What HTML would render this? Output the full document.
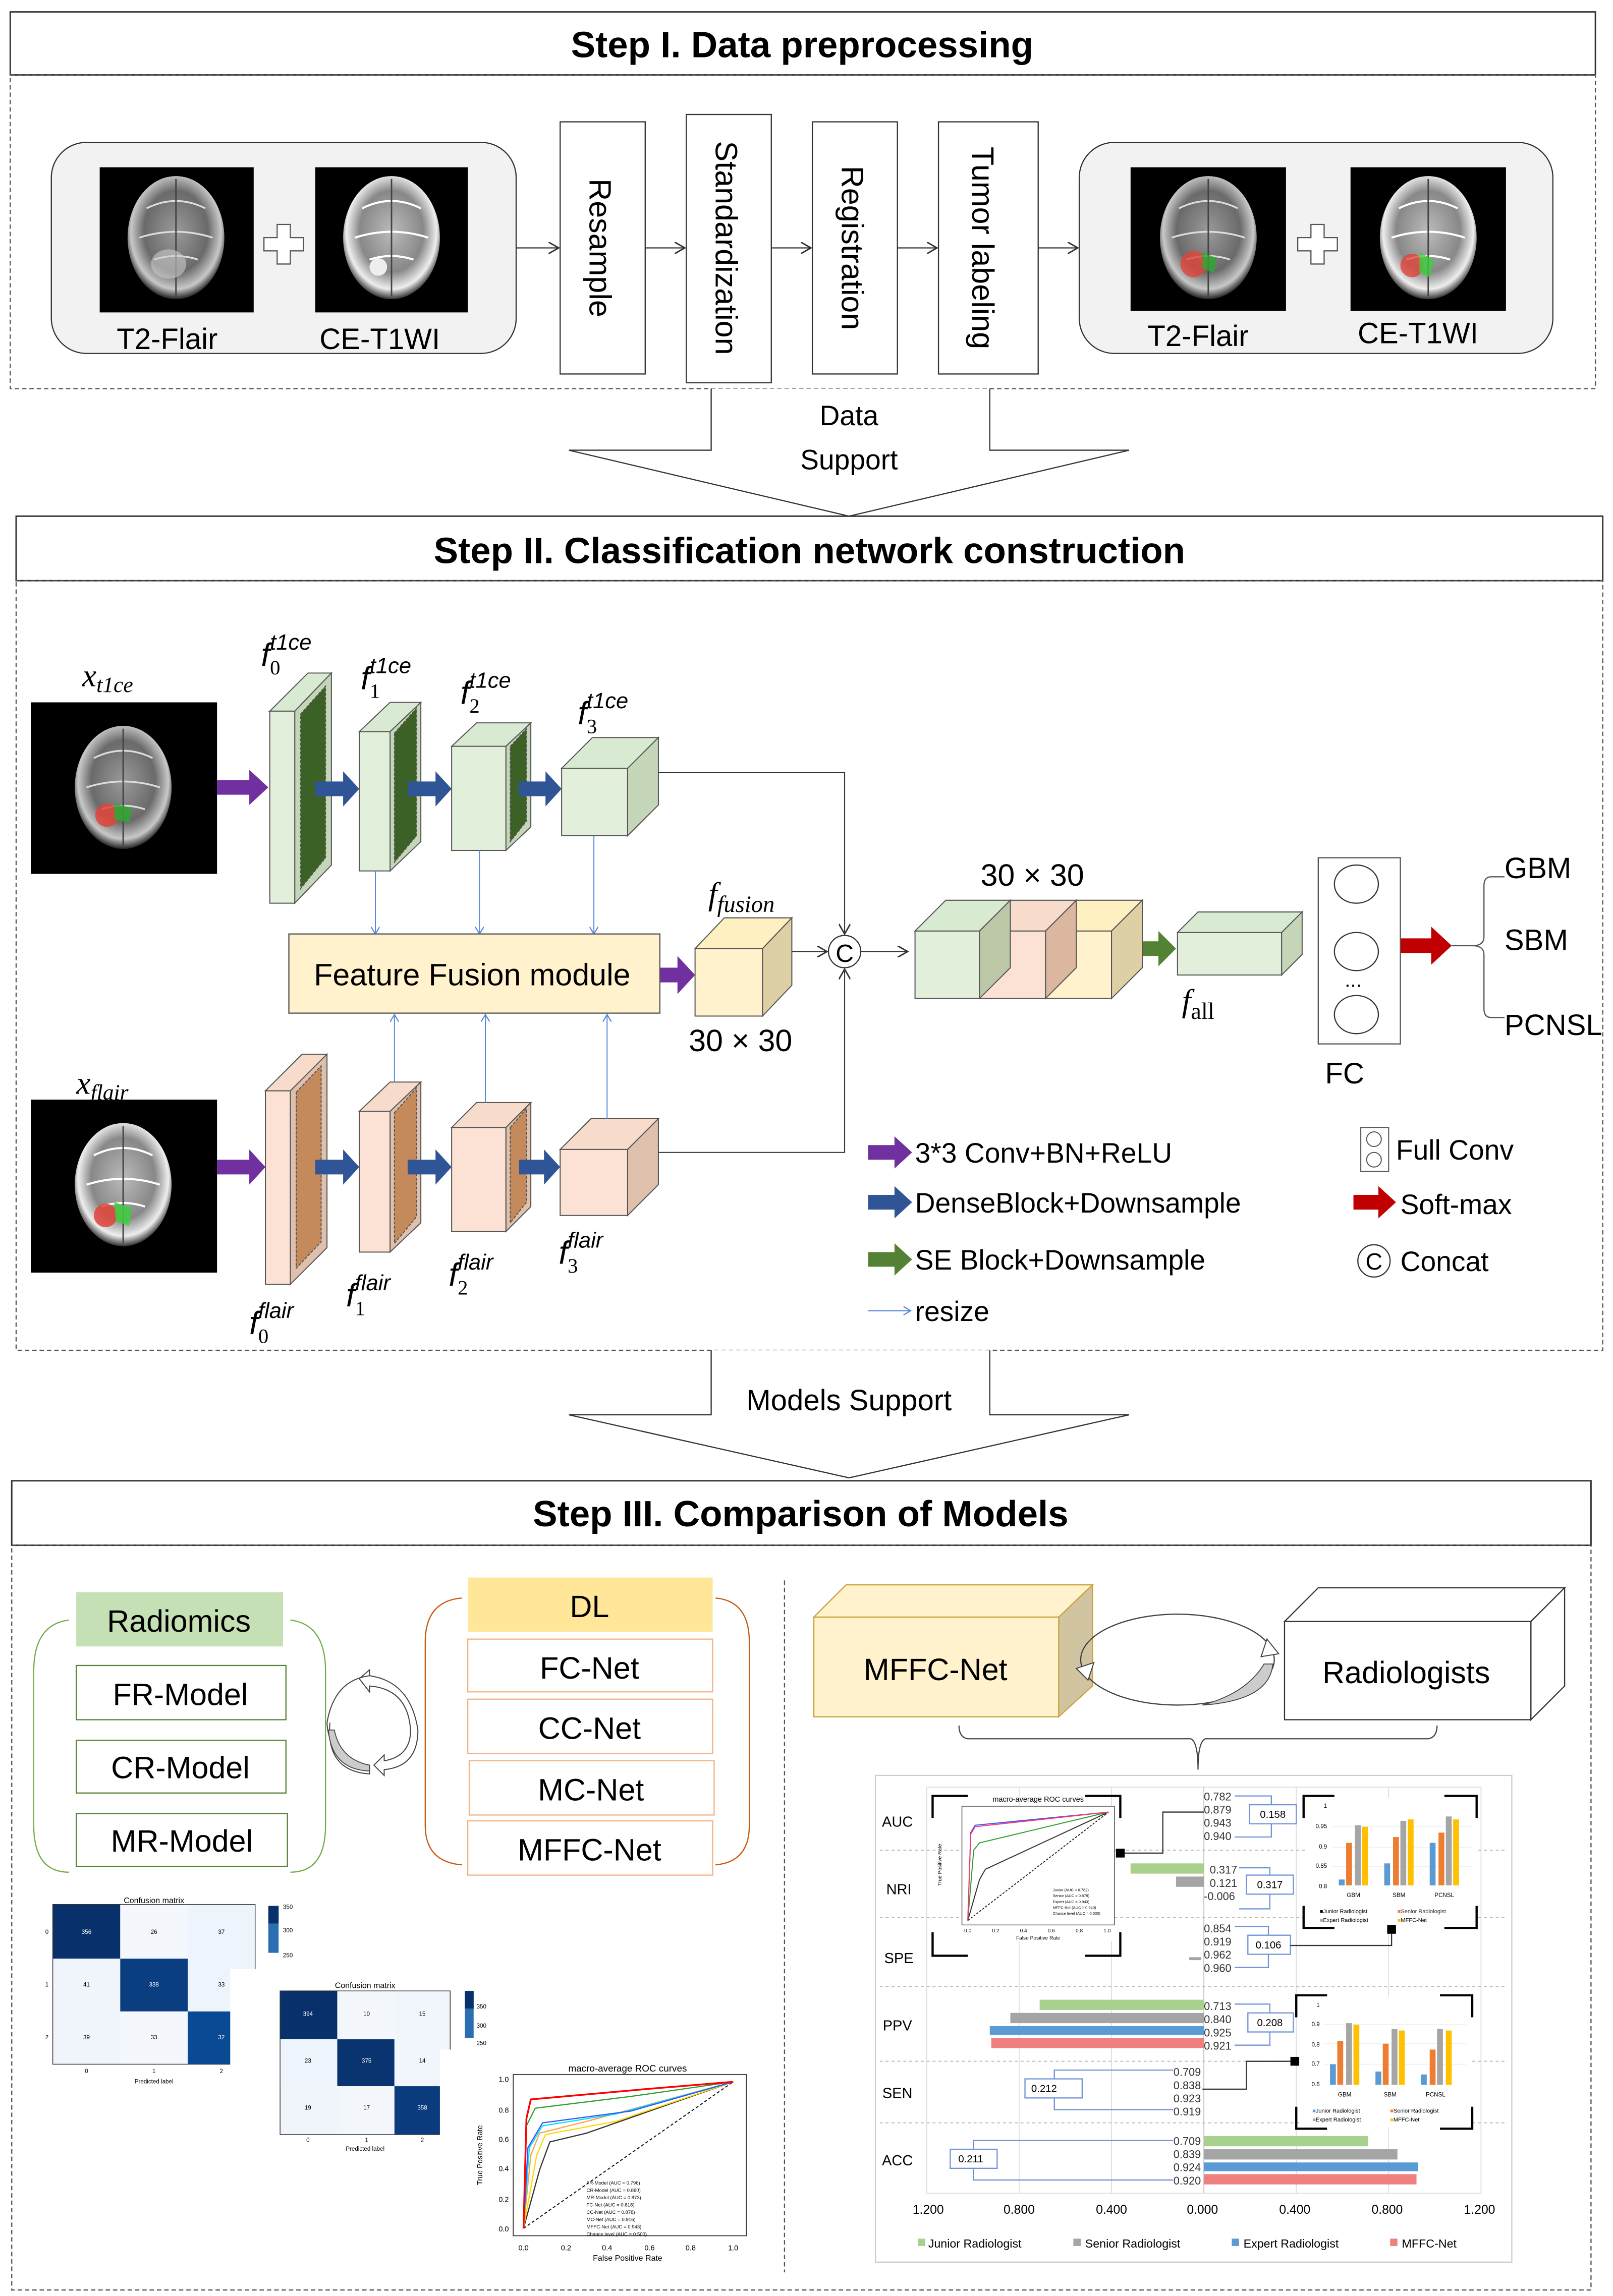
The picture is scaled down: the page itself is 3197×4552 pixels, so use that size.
<!DOCTYPE html>
<html><head><meta charset="utf-8"><style>
html,body{margin:0;padding:0;background:#fff;}
svg{display:block;}
text{font-family:"Liberation Sans",sans-serif;}
.it{font-family:"Liberation Serif",serif;font-style:italic;}
.sr{font-family:"Liberation Serif",serif;}
</style></head><body>
<svg width="3197" height="4552" viewBox="0 0 1100 1566" xmlns="http://www.w3.org/2000/svg">
<defs>
<radialGradient id="bg1" cx="50%" cy="45%" r="55%"><stop offset="0" stop-color="#9a9a9a"/><stop offset="0.6" stop-color="#6a6a6a"/><stop offset="0.85" stop-color="#c8c8c8"/><stop offset="1" stop-color="#222"/></radialGradient>
<radialGradient id="bg2" cx="50%" cy="45%" r="55%"><stop offset="0" stop-color="#bbb"/><stop offset="0.6" stop-color="#888"/><stop offset="0.85" stop-color="#eee"/><stop offset="1" stop-color="#333"/></radialGradient>
<marker id="ah" markerWidth="8" markerHeight="8" refX="7" refY="4" orient="auto" markerUnits="userSpaceOnUse"><path d="M0,0 L7,4 L0,8" fill="none" stroke="#333" stroke-width="1"/></marker>
<marker id="ahb" markerWidth="6" markerHeight="6" refX="5" refY="3" orient="auto" markerUnits="userSpaceOnUse"><path d="M0,0 L5,3 L0,6" fill="none" stroke="#5b8bd8" stroke-width="0.8"/></marker>
<g id="brain"><ellipse cx="0" cy="0" rx="33" ry="42" fill="url(#bg1)"/><path d="M-20,-20 Q0,-30 20,-20 M-25,0 Q0,-8 25,0 M-15,15 Q0,10 15,15" stroke="#ddd" stroke-width="1.2" fill="none"/><path d="M0,-40 L0,40" stroke="#444" stroke-width="1"/></g>
<g id="brain2"><ellipse cx="0" cy="0" rx="33" ry="42" fill="url(#bg2)"/><path d="M-20,-20 Q0,-30 20,-20 M-25,0 Q0,-8 25,0 M-15,15 Q0,10 15,15" stroke="#fff" stroke-width="1.4" fill="none"/><path d="M0,-40 L0,40" stroke="#444" stroke-width="1"/></g>
</defs>

<!-- ===== STEP I ===== -->
<rect x="7" y="8" width="1081" height="43" fill="#fff" stroke="#333" stroke-width="1"/>
<text x="547" y="39" font-size="25" font-weight="bold" text-anchor="middle">Step I. Data preprocessing</text>
<rect x="7" y="51" width="1081" height="214" fill="none" stroke="#555" stroke-width="0.8" stroke-dasharray="3,2"/>
<!-- left panel -->
<rect x="35" y="97" width="317" height="144" rx="24" fill="#f2f2f2" stroke="#333" stroke-width="0.8"/>
<rect x="68" y="114" width="105" height="99" fill="#000"/><use href="#brain" x="120" y="162"/>
<ellipse cx="115" cy="180" rx="12" ry="10" fill="#ccc" opacity="0.6"/>
<rect x="215" y="114" width="104" height="99" fill="#000"/><use href="#brain2" x="267" y="162"/>
<circle cx="258" cy="182" r="6" fill="#eee"/>
<path d="M189,153 h9 v9 h9 v9 h-9 v9 h-9 v-9 h-9 v-9 h9 z" fill="#fff" stroke="#555" stroke-width="0.8"/>
<text x="114" y="238" font-size="20" text-anchor="middle">T2-Flair</text>
<text x="259" y="238" font-size="20" text-anchor="middle">CE-T1WI</text>
<!-- boxes -->
<rect x="382" y="83" width="58" height="172" fill="#fff" stroke="#333" stroke-width="0.8"/>
<text transform="translate(402,169) rotate(90)" font-size="21" text-anchor="middle">Resample</text>
<rect x="468" y="78" width="58" height="183" fill="#fff" stroke="#333" stroke-width="0.8"/>
<text transform="translate(488,169) rotate(90)" font-size="21" text-anchor="middle">Standardization</text>
<rect x="554" y="83" width="58" height="172" fill="#fff" stroke="#333" stroke-width="0.8"/>
<text transform="translate(574,169) rotate(90)" font-size="21" text-anchor="middle">Registration</text>
<rect x="640" y="83" width="68" height="172" fill="#fff" stroke="#333" stroke-width="0.8"/>
<text transform="translate(663,169) rotate(90)" font-size="21" text-anchor="middle">Tumor labeling</text>
<g stroke="#333" stroke-width="0.8" marker-end="url(#ah)">
<line x1="352" y1="169" x2="381" y2="169"/><line x1="440" y1="169" x2="467" y2="169"/><line x1="526" y1="169" x2="553" y2="169"/><line x1="612" y1="169" x2="639" y2="169"/><line x1="708" y1="169" x2="735" y2="169"/></g>
<!-- right panel -->
<rect x="736" y="97" width="323" height="144" rx="24" fill="#f2f2f2" stroke="#333" stroke-width="0.8"/>
<rect x="771" y="114" width="106" height="98" fill="#000"/><use href="#brain" x="824" y="162"/>
<circle cx="814" cy="180" r="9" fill="#e0453a" opacity="0.8"/><path d="M820,172 l10,4 l-2,10 l-8,-3z" fill="#2fa82f" opacity="0.8"/>
<rect x="921" y="114" width="106" height="98" fill="#000"/><use href="#brain2" x="974" y="162"/>
<circle cx="963" cy="181" r="8" fill="#e0453a" opacity="0.8"/><path d="M968,172 l10,5 l-3,12 l-7,-3z" fill="#3ecf3e" opacity="0.8"/>
<path d="M894,153 h9 v9 h9 v9 h-9 v9 h-9 v-9 h-9 v-9 h9 z" fill="#fff" stroke="#555" stroke-width="0.8"/>
<text x="817" y="236" font-size="20" text-anchor="middle">T2-Flair</text>
<text x="967" y="234" font-size="20" text-anchor="middle">CE-T1WI</text>
<!-- data support arrow -->
<path d="M485,265 V307 H388 L579,352 L770,307 H675 V265" fill="#fff" stroke="#333" stroke-width="0.8"/>
<text x="579" y="290" font-size="19" text-anchor="middle">Data</text>
<text x="579" y="320" font-size="19" text-anchor="middle">Support</text>

<!-- ===== STEP II ===== -->
<rect x="11" y="352" width="1082" height="44" fill="#fff" stroke="#333" stroke-width="1"/>
<text x="552" y="384" font-size="25" font-weight="bold" text-anchor="middle">Step II. Classification network construction</text>
<rect x="11" y="396" width="1082" height="525" fill="none" stroke="#555" stroke-width="0.8" stroke-dasharray="3,2"/>
<!-- images -->
<rect x="21" y="479" width="127" height="117" fill="#000"/><use href="#brain" x="84" y="537"/>
<circle cx="73" cy="556" r="8" fill="#e0453a" opacity="0.85"/><path d="M78,548 l12,3 l-2,10 l-10,-2z" fill="#2fa82f" opacity="0.85"/>
<rect x="21" y="750" width="127" height="118" fill="#000"/><use href="#brain2" x="84" y="808"/>
<circle cx="72" cy="829" r="8" fill="#e0453a" opacity="0.85"/><path d="M78,820 l12,4 l-2,12 l-9,-3z" fill="#3ecf3e" opacity="0.85"/>
<text x="56" y="468" class="it" font-size="22">x<tspan font-size="15" dy="4">t1ce</tspan></text>
<text x="52" y="746" class="it" font-size="22">x<tspan font-size="15" dy="4">flair</tspan></text>

<!-- green cubes -->
<g stroke="#555" stroke-width="0.7">
<polygon points="184,485 226,459 226,459 201,485" fill="#d9ead3"/>
<polygon points="184,485 210,459 226,459 201,485" fill="#d9ead3"/>
<polygon points="201,485 226,459 226,590 201,616" fill="#c5d6b8"/>
<rect x="184" y="485" width="17" height="131" fill="#e2efda"/>
<polygon points="205,487 222,468 222,585 205,606" fill="#3c6127" stroke-dasharray="2,1"/>
<polygon points="245,499 266,479 287,479 266,499" fill="#d9ead3"/>
<polygon points="266,499 287,479 287,574 266,594" fill="#c5d6b8"/>
<rect x="245" y="499" width="21" height="95" fill="#e2efda"/>
<polygon points="269,500 284,483 284,570 269,588" fill="#3c6127" stroke-dasharray="2,1"/>
<polygon points="308,509 325,493 362,493 345,509" fill="#d9ead3"/>
<polygon points="345,509 362,493 362,564 345,580" fill="#c5d6b8"/>
<rect x="308" y="509" width="37" height="71" fill="#e2efda"/>
<polygon points="348,509 359,497 359,560 348,574" fill="#3c6127" stroke-dasharray="2,1"/>
<polygon points="383,524 404,503 449,503 428,524" fill="#d9ead3"/>
<polygon points="428,524 449,503 449,549 428,570" fill="#c5d6b8"/>
<rect x="383" y="524" width="45" height="46" fill="#e2efda"/>
</g>
<!-- pink cubes -->
<g stroke="#555" stroke-width="0.7">
<polygon points="181,744 206,719 223,719 198,744" fill="#f8dccb"/>
<polygon points="198,744 223,719 223,851 198,876" fill="#dec0ad"/>
<rect x="181" y="744" width="17" height="132" fill="#fbe2d5"/>
<polygon points="202,745 219,727 219,847 202,865" fill="#c48a5c" stroke-dasharray="2,1"/>
<polygon points="245,758 266,738 287,738 266,758" fill="#f8dccb"/>
<polygon points="266,758 287,738 287,834 266,854" fill="#dec0ad"/>
<rect x="245" y="758" width="21" height="96" fill="#fbe2d5"/>
<polygon points="269,759 284,742 284,830 269,848" fill="#c48a5c" stroke-dasharray="2,1"/>
<polygon points="308,769 325,752 362,752 345,769" fill="#f8dccb"/>
<polygon points="345,769 362,752 362,823 345,840" fill="#dec0ad"/>
<rect x="308" y="769" width="37" height="71" fill="#fbe2d5"/>
<polygon points="348,769 359,756 359,820 348,834" fill="#c48a5c" stroke-dasharray="2,1"/>
<polygon points="382,784 403,763 449,763 428,784" fill="#f8dccb"/>
<polygon points="428,784 449,763 449,808 428,829" fill="#dec0ad"/>
<rect x="382" y="784" width="46" height="45" fill="#fbe2d5"/>
</g>
<!-- arrows -->
<g>
<polygon points="148,532 170,532 170,525 183,537 170,549 170,542 148,542" fill="#7030a0"/>
<polygon points="148,791 170,791 170,784 181,796 170,808 170,801 148,801" fill="#7030a0"/>
<g fill="#2f5597">
<polygon points="215,533 234,533 234,526 245,538 234,550 234,543 215,543"/>
<polygon points="278,533 297,533 297,526 308,538 297,550 297,543 278,543"/>
<polygon points="354,533 372,533 372,526 383,538 372,550 372,543 354,543"/>
<polygon points="215,791 234,791 234,784 245,796 234,808 234,801 215,801"/>
<polygon points="278,791 297,791 297,784 308,796 297,808 297,801 278,801"/>
<polygon points="354,791 371,791 371,784 382,796 371,808 371,801 354,801"/>
</g>
<polygon points="450,660 462,660 462,652 474,665 462,678 462,670 450,670" fill="#7030a0"/>
<polygon points="772,642 790,642 790,635 802,647 790,659 790,652 772,652" fill="#548235"/>
<polygon points="952,640 976,640 976,632 990,645 976,658 976,650 952,650" fill="#c00000"/>
</g>
<!-- resize lines -->
<g stroke="#5b8bd8" stroke-width="0.7" marker-end="url(#ahb)">
<line x1="256" y1="594" x2="256" y2="637"/><line x1="327" y1="580" x2="327" y2="637"/><line x1="405" y1="570" x2="405" y2="637"/>
<line x1="269" y1="738" x2="269" y2="692"/><line x1="331" y1="752" x2="331" y2="692"/><line x1="414" y1="763" x2="414" y2="692"/>
</g>
<!-- fusion -->
<rect x="197" y="637" width="253" height="54" fill="#fff2cc" stroke="#555" stroke-width="0.8"/>
<text x="322" y="672" font-size="21" text-anchor="middle">Feature Fusion module</text>
<g stroke="#555" stroke-width="0.7">
<polygon points="474,647 494,626 540,626 520,647" fill="#fff0c2"/>
<polygon points="520,647 540,626 540,672 520,693" fill="#ddd0a5"/>
<rect x="474" y="647" width="46" height="46" fill="#fff2cc"/>
</g>
<text x="483" y="617" class="it" font-size="22">f<tspan font-size="16" dy="5">fusion</tspan></text>
<text x="505" y="717" font-size="21" text-anchor="middle">30 × 30</text>
<!-- connectors to C -->
<g stroke="#333" stroke-width="0.7" fill="none">
<polyline points="449,527 576,527 576,637" marker-end="url(#ah)"/>
<polyline points="449,786 576,786 576,661" marker-end="url(#ah)"/>
<line x1="540" y1="649" x2="564" y2="649" marker-end="url(#ah)"/>
<line x1="587" y1="649" x2="619" y2="649" marker-end="url(#ah)"/>
</g>
<circle cx="576" cy="649" r="11" fill="#fff" stroke="#333" stroke-width="0.8"/>
<text x="576" y="656" font-size="17" text-anchor="middle">C</text>
<!-- concat cubes -->
<g stroke="#555" stroke-width="0.7">
<polygon points="713,635 734,614 779,614 758,635" fill="#fff0c2"/>
<polygon points="758,635 779,614 779,660 758,681" fill="#ddd0a5"/>
<rect x="713" y="635" width="45" height="46" fill="#fff2cc"/>
<polygon points="668,635 689,614 734,614 713,635" fill="#f8dccb"/>
<polygon points="713,635 734,614 734,660 713,681" fill="#dbb79f"/>
<rect x="668" y="635" width="45" height="46" fill="#fbe2d5"/>
<polygon points="624,635 645,614 689,614 668,635" fill="#d9ead3"/>
<polygon points="668,635 689,614 689,660 668,681" fill="#bcc7a8"/>
<rect x="624" y="635" width="44" height="46" fill="#e2efda"/>
</g>
<text x="704" y="604" font-size="21" text-anchor="middle">30 × 30</text>
<g stroke="#555" stroke-width="0.7">
<polygon points="803,636 817,622 888,622 874,636" fill="#d9ead3"/>
<polygon points="874,636 888,622 888,651 874,665" fill="#c5d6b8"/>
<rect x="803" y="636" width="71" height="29" fill="#e2efda"/>
</g>
<text x="806" y="690" class="it" font-size="22">f<tspan class="sr" font-style="normal" font-size="16" dy="5">all</tspan></text>
<!-- FC -->
<rect x="899" y="585" width="56" height="127" fill="#fff" stroke="#555" stroke-width="0.8"/>
<ellipse cx="925" cy="603" rx="15" ry="13" fill="#fff" stroke="#333" stroke-width="0.8"/>
<ellipse cx="925" cy="649" rx="15" ry="13" fill="#fff" stroke="#333" stroke-width="0.8"/>
<ellipse cx="925" cy="692" rx="15" ry="13" fill="#fff" stroke="#333" stroke-width="0.8"/>
<text x="917" y="673" font-size="14">...</text>
<text x="917" y="739" font-size="20" text-anchor="middle">FC</text>
<path d="M1026,598 H1017 Q1012,598 1012,604 V639 Q1012,645 1004,645 Q1012,645 1012,651 V688 Q1012,694 1017,694 H1026" fill="none" stroke="#555" stroke-width="0.8"/>
<line x1="990" y1="645" x2="1004" y2="645" stroke="#555" stroke-width="0.8"/>
<text x="1026" y="599" font-size="20">GBM</text>
<text x="1026" y="648" font-size="20">SBM</text>
<text x="1026" y="706" font-size="20">PCNSL</text>
<!-- labels f -->
<g class="it" font-size="22">
<text x="178" y="454">f<tspan font-size="14" dy="6" font-style="normal" class="sr">0</tspan><tspan font-size="15" dx="-7" dy="-17">t1ce</tspan></text>
<text x="246" y="470">f<tspan font-size="14" dy="6" font-style="normal" class="sr">1</tspan><tspan font-size="15" dx="-7" dy="-17">t1ce</tspan></text>
<text x="314" y="480">f<tspan font-size="14" dy="6" font-style="normal" class="sr">2</tspan><tspan font-size="15" dx="-7" dy="-17">t1ce</tspan></text>
<text x="394" y="494">f<tspan font-size="14" dy="6" font-style="normal" class="sr">3</tspan><tspan font-size="15" dx="-7" dy="-17">t1ce</tspan></text>
<text x="170" y="910">f<tspan font-size="14" dy="6" font-style="normal" class="sr">0</tspan><tspan font-size="15" dx="-7" dy="-17">flair</tspan></text>
<text x="236" y="891">f<tspan font-size="14" dy="6" font-style="normal" class="sr">1</tspan><tspan font-size="15" dx="-7" dy="-17">flair</tspan></text>
<text x="306" y="877">f<tspan font-size="14" dy="6" font-style="normal" class="sr">2</tspan><tspan font-size="15" dx="-7" dy="-17">flair</tspan></text>
<text x="381" y="862">f<tspan font-size="14" dy="6" font-style="normal" class="sr">3</tspan><tspan font-size="15" dx="-7" dy="-17">flair</tspan></text>
</g>
<!-- legend -->
<polygon points="592,781 610,781 610,775 622,786 610,797 610,791 592,791" fill="#7030a0"/>
<polygon points="592,815 610,815 610,809 622,820 610,831 610,825 592,825" fill="#2f5597"/>
<polygon points="592,854 610,854 610,848 622,859 610,870 610,864 592,864" fill="#548235"/>
<line x1="592" y1="894" x2="621" y2="894" stroke="#5b8bd8" stroke-width="0.8" marker-end="url(#ahb)"/>
<g font-size="19">
<text x="624" y="793">3*3 Conv+BN+ReLU</text>
<text x="624" y="827">DenseBlock+Downsample</text>
<text x="624" y="866">SE Block+Downsample</text>
<text x="624" y="901">resize</text>
<text x="952" y="791">Full Conv</text>
<text x="955" y="828">Soft-max</text>
<text x="955" y="867">Concat</text>
</g>
<rect x="928" y="769" width="19" height="30" fill="#fff" stroke="#555" stroke-width="0.7"/>
<circle cx="937" cy="777" r="5" fill="none" stroke="#555" stroke-width="0.7"/><circle cx="937" cy="791" r="5" fill="none" stroke="#555" stroke-width="0.7"/>
<polygon points="923,815 940,815 940,809 952,820 940,831 940,825 923,825" fill="#c00000"/>
<circle cx="937" cy="860" r="11" fill="#fff" stroke="#333" stroke-width="0.8"/>
<text x="937" y="866" font-size="16" text-anchor="middle">C</text>

<!-- models support arrow -->
<path d="M485,921 V965 H388 L579,1008 L770,965 H675 V921" fill="#fff" stroke="#333" stroke-width="0.8"/>
<text x="579" y="962" font-size="20" text-anchor="middle">Models Support</text>

<!-- ===== STEP III ===== -->
<rect x="8" y="1010" width="1077" height="44" fill="#fff" stroke="#333" stroke-width="1"/>
<text x="546" y="1041" font-size="25" font-weight="bold" text-anchor="middle">Step III. Comparison of Models</text>
<rect x="8" y="1054" width="1077" height="508" fill="none" stroke="#555" stroke-width="0.8" stroke-dasharray="3,2"/>
<line x1="535" y1="1078" x2="535" y2="1550" stroke="#555" stroke-width="0.8" stroke-dasharray="3,2"/>
<!-- radiomics -->
<path d="M47,1105 Q23,1108 23,1140 V1245 Q23,1277 47,1277 M198,1105 Q222,1108 222,1140 V1245 Q222,1277 198,1277" fill="none" stroke="#70ad47" stroke-width="0.8"/>
<rect x="52" y="1086" width="141" height="37" fill="#c5e0b4"/>
<text x="122" y="1113" font-size="21" text-anchor="middle">Radiomics</text>
<g fill="#fff" stroke="#548235" stroke-width="0.8">
<rect x="52" y="1136" width="143" height="37"/><rect x="52" y="1187" width="143" height="36"/><rect x="52" y="1237" width="144" height="36"/></g>
<g font-size="21" text-anchor="middle"><text x="123" y="1163">FR-Model</text><text x="123" y="1213">CR-Model</text><text x="124" y="1263">MR-Model</text></g>
<!-- cycle -->
<path d="M245,1145 L252,1139 L252,1143 Q280,1147 285,1180 Q285,1205 262,1207 L262,1211 L255,1204 L262,1197 L262,1201 Q280,1198 280,1180 Q278,1152 252,1150 L252,1154 Z" fill="#fff" stroke="#444" stroke-width="0.7"/>
<path d="M252,1143 Q228,1146 223,1175 Q224,1200 252,1204 L252,1210 Q222,1208 225,1175" fill="none" stroke="#444" stroke-width="0.7"/>
<path d="M224,1180 Q226,1207 252,1208 L252,1204 Q232,1200 228,1180 Z" fill="#ccc" stroke="#444" stroke-width="0.6"/>
<!-- DL -->
<path d="M315,1090 Q290,1092 290,1120 V1245 Q290,1270 315,1272 M488,1090 Q511,1092 511,1120 V1245 Q511,1270 488,1272" fill="none" stroke="#c55a11" stroke-width="0.8"/>
<rect x="319" y="1076" width="167" height="37" fill="#ffe699"/>
<text x="402" y="1103" font-size="21" text-anchor="middle">DL</text>
<g fill="#fff" stroke="#f4b183" stroke-width="0.8">
<rect x="319" y="1118" width="167" height="36"/><rect x="319" y="1159" width="167" height="37"/><rect x="320" y="1201" width="167" height="37"/><rect x="319" y="1242" width="167" height="37"/></g>
<g font-size="21" text-anchor="middle"><text x="402" y="1145">FC-Net</text><text x="402" y="1186">CC-Net</text><text x="403" y="1228">MC-Net</text><text x="402" y="1269">MFFC-Net</text></g>
<!-- confusion matrix 1 -->
<text x="105" y="1298" font-size="5.5" text-anchor="middle">Confusion matrix</text>
<g>
<rect x="36" y="1299" width="46" height="37" fill="#08306b"/><rect x="82" y="1299" width="46" height="37" fill="#f4f8fd"/><rect x="128" y="1299" width="46" height="37" fill="#eef4fb"/>
<rect x="36" y="1336" width="46" height="36" fill="#f0f5fb"/><rect x="82" y="1336" width="46" height="36" fill="#0b3e80"/><rect x="128" y="1336" width="46" height="36" fill="#eef4fb"/>
<rect x="36" y="1372" width="46" height="36" fill="#f0f5fb"/><rect x="82" y="1372" width="46" height="36" fill="#f4f8fd"/><rect x="128" y="1372" width="46" height="36" fill="#0a4a94"/>
<rect x="36" y="1299" width="138" height="109" fill="none" stroke="#333" stroke-width="0.5"/>
<g font-size="4" text-anchor="middle"><text x="59" y="1319" fill="#fff">356</text><text x="105" y="1319">26</text><text x="151" y="1319">37</text><text x="59" y="1355">41</text><text x="105" y="1355" fill="#fff">338</text><text x="151" y="1355">33</text><text x="59" y="1391">39</text><text x="105" y="1391">33</text><text x="151" y="1391" fill="#fff">32</text>
<text x="59" y="1414">0</text><text x="105" y="1414">1</text><text x="151" y="1414">2</text><text x="105" y="1421">Predicted label</text><text x="32" y="1319">0</text><text x="32" y="1355">1</text><text x="32" y="1391">2</text></g>
<rect x="183" y="1300" width="7" height="32" fill="#2b6fb3"/><rect x="183" y="1300" width="7" height="12" fill="#08306b"/>
<g font-size="4"><text x="193" y="1302">350</text><text x="193" y="1318">300</text><text x="193" y="1335">250</text></g>
</g>
<!-- CM2 -->
<rect x="157" y="1343" width="150" height="120" fill="#fff"/>
<text x="249" y="1356" font-size="5.5" text-anchor="middle">Confusion matrix</text>
<rect x="191" y="1358" width="39" height="33" fill="#08306b"/><rect x="230" y="1358" width="39" height="33" fill="#f4f8fd"/><rect x="269" y="1358" width="38" height="33" fill="#f1f6fc"/>
<rect x="191" y="1391" width="39" height="32" fill="#eef4fb"/><rect x="230" y="1391" width="39" height="32" fill="#0a3470"/><rect x="269" y="1391" width="38" height="32" fill="#f1f6fc"/>
<rect x="191" y="1423" width="39" height="33" fill="#f0f5fb"/><rect x="230" y="1423" width="39" height="33" fill="#f3f7fc"/><rect x="269" y="1423" width="38" height="33" fill="#0b3d7e"/>
<rect x="191" y="1358" width="116" height="98" fill="none" stroke="#333" stroke-width="0.5"/>
<g font-size="4" text-anchor="middle"><text x="210" y="1375" fill="#fff">394</text><text x="250" y="1375">10</text><text x="288" y="1375">15</text><text x="210" y="1407">23</text><text x="250" y="1407" fill="#fff">375</text><text x="288" y="1407">14</text><text x="210" y="1439">19</text><text x="250" y="1439">17</text><text x="288" y="1439" fill="#fff">358</text>
<text x="210" y="1461">0</text><text x="250" y="1461">1</text><text x="288" y="1461">2</text><text x="249" y="1467">Predicted label</text></g>
<rect x="317" y="1358" width="6" height="32" fill="#2b6fb3"/><rect x="317" y="1358" width="6" height="12" fill="#08306b"/>
<g font-size="4"><text x="325" y="1370">350</text><text x="325" y="1383">300</text><text x="325" y="1395">250</text></g>
<!-- ROC big -->
<rect x="300" y="1398" width="220" height="150" fill="#fff"/>
<text x="428" y="1413" font-size="6.5" text-anchor="middle">macro-average ROC curves</text>
<rect x="350" y="1415" width="159" height="110" fill="#fff" stroke="#333" stroke-width="0.6"/>
<line x1="357" y1="1520" x2="500" y2="1420" stroke="#111" stroke-width="0.7" stroke-dasharray="2,1.5"/>
<g fill="none" stroke-width="0.8">
<polyline points="357,1520 368,1480 375,1461 400,1455 500,1420" stroke="#333"/>
<polyline points="357,1520 366,1470 372,1456 420,1447 500,1420" stroke="#ffd700"/>
<polyline points="357,1520 362,1470 368,1455 400,1447 500,1420" stroke="#ffa040"/>
<polyline points="357,1520 361,1465 370,1450 420,1442 500,1420" stroke="#00e5ee"/>
<polyline points="357,1520 360,1465 370,1448 430,1440 500,1420" stroke="#3355ff"/>
<polyline points="357,1520 359,1450 365,1438 430,1430 500,1420" stroke="#2ca02c"/>
<polyline points="357,1520 359,1445 362,1432 440,1425 500,1420" stroke="#ff0000" stroke-width="1.2"/>
</g>
<g font-size="5" text-anchor="middle"><text x="357" y="1535">0.0</text><text x="386" y="1535">0.2</text><text x="414" y="1535">0.4</text><text x="443" y="1535">0.6</text><text x="471" y="1535">0.8</text><text x="500" y="1535">1.0</text>
<text x="428" y="1542" font-size="5.5">False Positive Rate</text></g>
<g font-size="5" text-anchor="end"><text x="347" y="1522">0.0</text><text x="347" y="1502">0.2</text><text x="347" y="1481">0.4</text><text x="347" y="1461">0.6</text><text x="347" y="1441">0.8</text><text x="347" y="1420">1.0</text></g>
<text transform="translate(329,1470) rotate(-90)" font-size="5" text-anchor="middle">True Positive Rate</text>
<g font-size="3.3"><text x="400" y="1490">FR-Model (AUC = 0.796)</text><text x="400" y="1495">CR-Model (AUC = 0.860)</text><text x="400" y="1500">MR-Model (AUC = 0.873)</text><text x="400" y="1505">FC-Net (AUC = 0.818)</text><text x="400" y="1510">CC-Net (AUC = 0.878)</text><text x="400" y="1515">MC-Net (AUC = 0.916)</text><text x="400" y="1520">MFFC-Net (AUC = 0.943)</text><text x="400" y="1525">Chance level (AUC = 0.500)</text></g>

<!-- right: MFFC-Net vs radiologists -->
<g stroke="#c9a23a" stroke-width="0.8">
<polygon points="555,1103 577,1081 745,1081 722,1103" fill="#fff2cc"/>
<polygon points="722,1103 745,1081 745,1150 722,1171" fill="#d1c4a0"/>
<rect x="555" y="1103" width="167" height="68" fill="#fff2cc"/>
</g>
<text x="638" y="1146" font-size="21" text-anchor="middle">MFFC-Net</text>
<g stroke="#333" stroke-width="0.8">
<polygon points="876,1106 899,1083 1067,1083 1044,1106" fill="#fff"/>
<polygon points="1044,1106 1067,1083 1067,1150 1044,1173" fill="#fff"/>
<rect x="876" y="1106" width="168" height="67" fill="#fff"/>
</g>
<text x="959" y="1148" font-size="21" text-anchor="middle">Radiologists</text>
<ellipse cx="803" cy="1132" rx="66" ry="31" fill="none" stroke="#444" stroke-width="0.8"/>
<path d="M864,1118 L872,1128 L860,1130 Z" fill="#fff" stroke="#444" stroke-width="0.7"/>
<path d="M742,1146 L734,1138 L746,1134 Z" fill="#fff" stroke="#444" stroke-width="0.7"/>
<path d="M868,1135 Q866,1160 820,1163 Q850,1155 862,1135 Z" fill="#ccc" stroke="#444" stroke-width="0.6"/>
<path d="M654,1177 Q654,1185 660,1186 H812 Q817,1188 817,1207 Q817,1188 822,1186 H974 Q980,1185 980,1177" fill="none" stroke="#444" stroke-width="0.8"/>
<!-- chart panel -->
<rect x="597" y="1211" width="434" height="332" fill="#fff" stroke="#ccc" stroke-width="0.8"/>
<rect x="632" y="1219" width="378" height="277" fill="none" stroke="#ddd" stroke-width="0.6"/>
<g stroke="#ddd" stroke-width="0.6"><line x1="695" y1="1219" x2="695" y2="1496"/><line x1="758" y1="1219" x2="758" y2="1496"/><line x1="884" y1="1219" x2="884" y2="1496"/><line x1="947" y1="1219" x2="947" y2="1496"/></g>
<line x1="821" y1="1219" x2="821" y2="1496" stroke="#bbb" stroke-width="0.6"/>
<g stroke="#bbb" stroke-width="0.7" stroke-dasharray="2,2"><line x1="600" y1="1262" x2="1028" y2="1262"/><line x1="600" y1="1308" x2="1028" y2="1308"/><line x1="600" y1="1355" x2="1028" y2="1355"/><line x1="600" y1="1406" x2="1028" y2="1406"/><line x1="600" y1="1448" x2="1028" y2="1448"/></g>
<g class="sr" font-size="10" text-anchor="middle"><text x="612" y="1246">AUC</text><text x="613" y="1292">NRI</text><text x="613" y="1339">SPE</text><text x="612" y="1385">PPV</text><text x="612" y="1431">SEN</text><text x="612" y="1477">ACC</text></g>
<!-- bars -->
<rect x="771" y="1271" width="50" height="7" fill="#a9d18e"/><rect x="802" y="1280" width="19" height="7" fill="#a5a5a5"/><rect x="811" y="1335" width="8" height="2" fill="#a5a5a5"/>
<rect x="709" y="1364" width="112" height="7" fill="#a9d18e"/><rect x="689" y="1373" width="132" height="7" fill="#a5a5a5"/><rect x="675" y="1382" width="146" height="6" fill="#5b9bd5"/><rect x="676" y="1390" width="145" height="7" fill="#f08080"/>
<rect x="821" y="1457" width="112" height="7" fill="#a9d18e"/><rect x="821" y="1466" width="132" height="7" fill="#a5a5a5"/><rect x="821" y="1475" width="146" height="6" fill="#5b9bd5"/><rect x="821" y="1483" width="145" height="7" fill="#f08080"/>
<!-- values -->
<g font-size="7.5" fill="#333">
<text x="821" y="1228">0.782</text><text x="821" y="1237">0.879</text><text x="821" y="1246">0.943</text><text x="821" y="1255">0.940</text>
<text x="825" y="1278">0.317</text><text x="825" y="1287">0.121</text><text x="821" y="1296">-0.006</text>
<text x="821" y="1318">0.854</text><text x="821" y="1327">0.919</text><text x="821" y="1336">0.962</text><text x="821" y="1345">0.960</text>
<text x="821" y="1371">0.713</text><text x="821" y="1380">0.840</text><text x="821" y="1389">0.925</text><text x="821" y="1398">0.921</text>
</g>
<g font-size="7.5" fill="#333" text-anchor="end">
<text x="819" y="1416">0.709</text><text x="819" y="1425">0.838</text><text x="819" y="1434">0.923</text><text x="819" y="1443">0.919</text>
<text x="819" y="1463">0.709</text><text x="819" y="1472">0.839</text><text x="819" y="1481">0.924</text><text x="819" y="1490">0.920</text>
</g>
<!-- blue bracket lines -->
<g fill="none" stroke="#6f93d8" stroke-width="0.8">
<polyline points="842,1225 867,1225 867,1231"/><polyline points="842,1253 867,1253 867,1244"/>
<polyline points="845,1274 866,1274 866,1279"/><polyline points="845,1302 866,1302 866,1292"/>
<polyline points="842,1314 865,1314 865,1320"/><polyline points="842,1342 865,1342 865,1333"/>
<polyline points="842,1367 866,1367 866,1373"/><polyline points="842,1395 866,1395 866,1386"/>
<polyline points="800,1412 719,1412 719,1418"/><polyline points="800,1439 719,1439 719,1431"/>
<polyline points="800,1460 664,1460 664,1466"/><polyline points="800,1487 664,1487 664,1479"/>
</g>
<g fill="#fff" stroke="#6f93d8" stroke-width="0.8"><rect x="852" y="1231" width="32" height="13"/><rect x="850" y="1279" width="32" height="13"/><rect x="851" y="1320" width="29" height="13"/><rect x="851" y="1373" width="31" height="13"/><rect x="699" y="1418" width="39" height="13"/><rect x="648" y="1466" width="32" height="13"/></g>
<g font-size="7" text-anchor="middle"><text x="868" y="1240">0.158</text><text x="866" y="1288">0.317</text><text x="865" y="1329">0.106</text><text x="866" y="1382">0.208</text><text x="712" y="1427">0.212</text><text x="662" y="1475">0.211</text></g>
<!-- axis labels -->
<g class="sr" font-size="8.5" text-anchor="middle"><text x="633" y="1510">1.200</text><text x="695" y="1510">0.800</text><text x="758" y="1510">0.400</text><text x="820" y="1510">0.000</text><text x="883" y="1510">0.400</text><text x="946" y="1510">0.800</text><text x="1009" y="1510">1.200</text></g>
<g class="sr" font-size="8"><rect x="626" y="1527" width="5" height="5" fill="#a9d18e"/><text x="633" y="1533">Junior Radiologist</text><rect x="732" y="1527" width="5" height="5" fill="#a5a5a5"/><text x="740" y="1533">Senior Radiologist</text><rect x="840" y="1527" width="5" height="5" fill="#5b9bd5"/><text x="848" y="1533">Expert Radiologist</text><rect x="948" y="1527" width="5" height="5" fill="#f08080"/><text x="956" y="1533">MFFC-Net</text></g>
<!-- small ROC inset -->
<rect x="656" y="1232" width="104" height="92" fill="#fff"/>
<g fill="none" stroke="#000" stroke-width="1.5"><polyline points="660,1225 636,1225 636,1240"/><polyline points="740,1225 764,1225 764,1240"/><polyline points="636,1318 636,1334 660,1334"/><polyline points="764,1318 764,1334 740,1334"/></g>
<text x="708" y="1229" font-size="5" text-anchor="middle">macro-average ROC curves</text>
<rect x="656" y="1232" width="104" height="81" fill="#fff" stroke="#444" stroke-width="0.5"/>
<line x1="660" y1="1310" x2="756" y2="1236" stroke="#111" stroke-width="0.6" stroke-dasharray="1.5,1"/>
<g fill="none" stroke-width="0.7"><polyline points="660,1310 668,1282 672,1275 756,1236" stroke="#333"/><polyline points="660,1310 664,1262 668,1257 756,1236" stroke="#2ca02c"/><polyline points="660,1310 662,1250 665,1245 756,1236" stroke="#3355ff"/><polyline points="660,1310 662,1251 665,1246 756,1236" stroke="#ff3366"/></g>
<g font-size="3.5" text-anchor="middle"><text x="660" y="1318">0.0</text><text x="679" y="1318">0.2</text><text x="698" y="1318">0.4</text><text x="717" y="1318">0.6</text><text x="736" y="1318">0.8</text><text x="755" y="1318">1.0</text><text x="708" y="1323">False Positive Rate</text></g>
<text transform="translate(642,1272) rotate(-90)" font-size="3.5" text-anchor="middle">True Positive Rate</text>
<g font-size="2.6"><text x="718" y="1290">Junior (AUC = 0.782)</text><text x="718" y="1294">Senior (AUC = 0.879)</text><text x="718" y="1298">Expert (AUC = 0.943)</text><text x="718" y="1302">MFFC-Net (AUC = 0.940)</text><text x="718" y="1306">Chance level (AUC = 0.500)</text></g>
<rect x="761" y="1261" width="6" height="6" fill="#000"/>
<polyline points="767,1264 793,1264 793,1236 821,1236" fill="none" stroke="#333" stroke-width="0.8"/>
<!-- bar inset 1 -->
<rect x="890" y="1226" width="118" height="88" fill="#fff"/>
<g fill="none" stroke="#000" stroke-width="1.5"><polyline points="910,1225 889,1225 889,1240"/><polyline points="985,1225 1007,1225 1007,1240"/><polyline points="889,1300 889,1315 910,1315"/><polyline points="985,1315 1007,1315 1007,1300"/></g>
<g stroke="#eee" stroke-width="0.5"><line x1="908" y1="1246" x2="1003" y2="1246"/><line x1="908" y1="1260" x2="1003" y2="1260"/><line x1="908" y1="1273" x2="1003" y2="1273"/></g>
<g font-size="4" class="sr" text-anchor="end"><text x="905" y="1233">1</text><text x="905" y="1247">0.95</text><text x="905" y="1261">0.9</text><text x="905" y="1274">0.85</text><text x="905" y="1288">0.8</text></g>
<g>
<rect x="913" y="1282" width="4" height="4" fill="#5b9bd5"/><rect x="918" y="1257" width="4" height="29" fill="#ed7d31"/><rect x="924" y="1245" width="4" height="41" fill="#a5a5a5"/><rect x="929" y="1246" width="4" height="40" fill="#ffc000"/>
<rect x="944" y="1271" width="4" height="15" fill="#5b9bd5"/><rect x="950" y="1253" width="4" height="33" fill="#ed7d31"/><rect x="955" y="1242" width="4" height="44" fill="#a5a5a5"/><rect x="960" y="1241" width="4" height="45" fill="#ffc000"/>
<rect x="975" y="1257" width="4" height="29" fill="#5b9bd5"/><rect x="981" y="1250" width="4" height="36" fill="#ed7d31"/><rect x="986" y="1239" width="4" height="47" fill="#a5a5a5"/><rect x="991" y="1241" width="4" height="45" fill="#ffc000"/>
</g>
<g font-size="4" class="sr" text-anchor="middle"><text x="923" y="1294">GBM</text><text x="954" y="1294">SBM</text><text x="985" y="1294">PCNSL</text></g>
<g font-size="3.8" class="sr"><text x="900" y="1305">■Junior Radiologist</text><text x="953" y="1305" fill="#333"><tspan fill="#ed7d31">■</tspan>Senior Radiologist</text><text x="900" y="1311"><tspan fill="#a5a5a5">■</tspan>Expert Radiologist</text><text x="953" y="1311"><tspan fill="#ffc000">■</tspan>MFFC-Net</text></g>
<rect x="946" y="1313" width="6" height="6" fill="#000"/>
<polyline points="949,1319 949,1327 880,1327" fill="none" stroke="#333" stroke-width="0.8"/>
<!-- bar inset 2 -->
<rect x="886" y="1362" width="118" height="89" fill="#fff"/>
<g fill="none" stroke="#000" stroke-width="1.5"><polyline points="905,1361 884,1361 884,1376"/><polyline points="982,1361 1004,1361 1004,1376"/><polyline points="884,1437 884,1452 905,1452"/><polyline points="982,1452 1004,1452 1004,1437"/></g>
<g stroke="#eee" stroke-width="0.5"><line x1="903" y1="1381" x2="1000" y2="1381"/><line x1="903" y1="1394" x2="1000" y2="1394"/><line x1="903" y1="1408" x2="1000" y2="1408"/></g>
<g font-size="4" class="sr" text-anchor="end"><text x="900" y="1369">1</text><text x="900" y="1382">0.9</text><text x="900" y="1396">0.8</text><text x="900" y="1409">0.7</text><text x="900" y="1423">0.6</text></g>
<g>
<rect x="907" y="1408" width="4" height="14" fill="#5b9bd5"/><rect x="912" y="1392" width="4" height="30" fill="#ed7d31"/><rect x="918" y="1380" width="4" height="42" fill="#a5a5a5"/><rect x="923" y="1381" width="4" height="41" fill="#ffc000"/>
<rect x="938" y="1413" width="4" height="9" fill="#5b9bd5"/><rect x="943" y="1394" width="4" height="28" fill="#ed7d31"/><rect x="949" y="1384" width="4" height="38" fill="#a5a5a5"/><rect x="954" y="1385" width="4" height="37" fill="#ffc000"/>
<rect x="969" y="1415" width="4" height="7" fill="#5b9bd5"/><rect x="975" y="1398" width="4" height="24" fill="#ed7d31"/><rect x="980" y="1384" width="4" height="38" fill="#a5a5a5"/><rect x="986" y="1385" width="4" height="37" fill="#ffc000"/>
</g>
<g font-size="4" class="sr" text-anchor="middle"><text x="917" y="1430">GBM</text><text x="948" y="1430">SBM</text><text x="979" y="1430">PCNSL</text></g>
<g font-size="3.8" class="sr"><text x="895" y="1441"><tspan fill="#5b9bd5">■</tspan>Junior Radiologist</text><text x="948" y="1441"><tspan fill="#ed7d31">■</tspan>Senior Radiologist</text><text x="895" y="1447"><tspan fill="#a5a5a5">■</tspan>Expert Radiologist</text><text x="948" y="1447"><tspan fill="#ffc000">■</tspan>MFFC-Net</text></g>
<rect x="880" y="1403" width="6" height="6" fill="#000"/>
<polyline points="820,1425 850,1425 850,1406 880,1406" fill="none" stroke="#333" stroke-width="0.8"/>
</svg>
</body></html>
